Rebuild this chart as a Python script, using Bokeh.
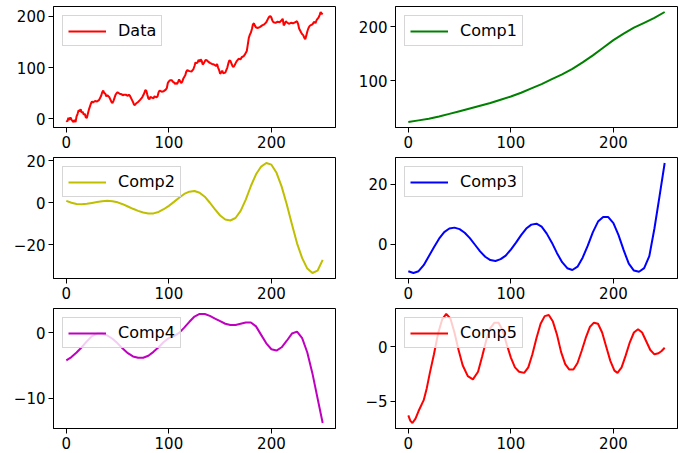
from bokeh.plotting import figure
from bokeh.layouts import gridplot
from bokeh.models import Range1d, FixedTicker, CustomJSTickFormatter, Legend, LegendItem
from bokeh.embed import file_html
from bokeh.resources import INLINE

# ---------------- data ----------------
xticks = [0, 100, 200]

data_x = [0, 1, 2, 3, 4, 5, 6, 7, 8, 9, 10, 11, 12, 13, 14, 15, 16, 17, 18, 19, 20, 21, 22, 23, 24, 25, 26, 28, 30, 32,
          34, 35, 36, 37, 38, 39, 40, 42, 44, 45, 46, 47, 48, 49, 50, 52, 54, 55, 56, 58, 60, 61, 62, 64, 65, 66, 67, 68,
          70, 72, 74, 75, 76, 77, 78, 79, 80, 81, 82, 84, 85, 86, 88, 89, 90, 91, 93, 95, 97, 98, 99, 100, 101, 103, 104,
          105, 106, 107, 108, 109, 110, 111, 112, 113, 114, 116, 117, 118, 120, 122, 124, 125, 126, 127, 128, 129, 130,
          131, 132, 133, 134, 135, 136, 137, 138, 140, 142, 144, 146, 147, 148, 149, 150, 151, 152, 153, 155, 156, 157,
          158, 159, 160, 161, 162, 163, 164, 165, 166, 168, 170, 171, 173, 174, 176, 177, 178, 179, 180, 181, 182, 183,
          184, 185, 187, 189, 191, 193, 195, 197, 198, 199, 200, 201, 202, 204, 206, 208, 210, 211, 212, 213, 214, 215,
          217, 219, 221, 223, 225, 226, 227, 228, 229, 230, 231, 232, 233, 234, 235, 236, 237, 238, 240, 241, 242, 243,
          244, 245, 246, 247, 248, 249, 250]
data_y = [-3, -5, 2, -2, 3, -1, -4, -6, -2, -6, 5, 10, 17, 15, 19, 12, 14, 8, 10, 3, 2, 10, 18, 24, 30, 34, 32, 35, 34, 37,
          45, 52, 55, 50, 49, 44, 46, 42, 33, 31, 35, 41, 47, 50, 52, 49, 48, 46, 47, 47, 45, 47, 45, 37, 33, 28, 27, 30,
          33, 37, 42, 46, 50, 56, 55, 47, 40, 38, 43, 41, 40, 44, 42, 44, 52, 55, 53, 54, 57, 60, 70, 73, 75, 75, 72,
          71, 68, 70, 68, 72, 77, 73, 70, 72, 78, 85, 92, 95, 93, 92, 97, 103, 110, 108, 110, 115, 111,
          116, 113, 106, 108, 112, 115, 114, 112, 109, 107, 106, 103, 107, 100, 95, 88, 90, 94, 89, 90, 95, 100,
          108, 114, 113, 108, 103, 101, 104, 108, 112, 117, 116, 120, 122, 125, 132, 145, 158, 164, 168, 175, 184, 186,
          181, 178, 177, 179, 182, 184, 188, 196, 199, 200, 197, 191, 188, 187, 189, 188, 192, 195, 182, 185, 190, 188,
          185, 187, 186, 188, 190, 185, 176, 172, 168, 165, 163, 158, 155, 162, 170, 176, 180, 182, 184, 187, 189, 186,
          192, 195, 197, 202, 208, 204, 206]
data_yticks = [0, 100, 200]

comp1_x = [0, 10, 20, 30, 40, 50, 60, 70, 80, 90, 100, 110, 120, 130, 140, 150, 160, 170, 180, 190, 200, 210, 220,
           230, 240, 250]
comp1_y = [24, 27, 30, 34, 39, 44, 49, 54, 59, 65, 71, 78, 86, 94, 103, 112, 122, 134, 147, 161, 175, 187, 198,
           207, 216, 227]
comp1_yticks = [100, 200]

comp_x = [0, 5, 10, 15, 20, 25, 30, 35, 40, 45, 50, 55, 60, 65, 70, 75, 80, 85, 90, 95, 100, 105, 110, 115, 120, 125,
          130, 135, 140, 145, 150, 155, 160, 165, 170, 175, 180, 185, 190, 195, 200, 205, 210, 215, 220, 225, 230,
          235, 240, 245, 250]
comp2_y = [0.9, 0.0, -0.6, -0.7, -0.5, -0.1, 0.3, 0.7, 0.9, 0.7, 0.2, -0.7, -1.8, -2.9, -3.9, -4.7, -5.1, -5.1,
           -4.4, -3.1, -1.5, 0.4, 2.4, 4.2, 5.3, 5.6, 4.8, 2.9, 0.0, -3.2, -6.1, -8.0, -8.5, -7.3, -3.9, 1.5, 8.0,
           13.6, 17.3, 19.0, 18.2, 14.3, 7.7, -0.8, -10.3, -19.4, -26.5, -31.5, -33.6, -32.5, -27.3]
comp2_yticks = [-20, 0, 20]

comp3_y = [-9.0, -9.6, -9.0, -7.0, -4.0, -1.0, 1.8, 4.0, 5.2, 5.5, 5.0, 3.8, 2.0, -0.2, -2.4, -4.2, -5.3, -5.6,
           -5.0, -3.8, -1.8, 0.5, 3.0, 5.2, 6.5, 6.8, 5.8, 3.5, 0.5, -3.0, -6.0, -8.0, -8.6, -7.5, -4.5, -0.5, 4.0,
           7.5, 9.0, 9.0, 7.0, 3.0, -2.0, -6.5, -8.8, -9.2, -8.0, -4.0, 5.2, 16.0, 27.0]
comp3_yticks = [0, 20]

comp4_y = [-4.2, -3.7, -3.0, -2.2, -1.3, -0.5, -0.1, -0.1, -0.4, -0.9, -1.6, -2.4, -3.1, -3.6, -3.8, -3.8, -3.5,
           -2.9, -2.2, -1.4, -0.8, -0.5, 0.0, 0.8, 1.7, 2.5, 2.9, 2.9, 2.6, 2.2, 1.8, 1.4, 1.2, 1.2, 1.4, 1.6, 1.6,
           1.0, -0.3, -1.6, -2.5, -2.7, -2.2, -1.2, -0.1, 0.2, -0.8, -3.0, -6.2, -10.0, -13.8]
comp4_yticks = [-10, 0]

comp5_x = [0, 2, 4, 7, 10, 15, 18, 21, 25, 29, 33, 37, 41, 45, 49, 53, 58, 63, 68, 72, 76, 80, 84, 88, 92, 96, 100,
           104, 108, 113, 117, 121, 125, 129, 133, 137, 141, 145, 149, 153, 157, 161, 165, 169, 173, 177, 181, 185,
           189, 193, 197, 201, 204, 208, 212, 216, 220, 224, 228, 232, 236, 240, 244, 247, 250]
comp5_y = [-6.3, -6.8, -7.0, -6.6, -5.9, -4.9, -3.8, -2.4, -0.7, 1.2, 2.5, 3.0, 2.6, 1.3, -0.3, -1.7, -2.7, -3.0,
           -2.3, -0.9, 0.6, 1.7, 2.2, 2.2, 1.5, 0.2, -1.0, -1.9, -2.3, -2.4, -1.9, -0.7, 0.8, 2.1, 2.8, 2.9, 2.3,
           1.1, -0.5, -1.6, -2.1, -2.1, -1.5, -0.4, 0.8, 1.8, 2.2, 2.1, 1.3, 0.0, -1.3, -2.2, -2.4, -1.9, -0.8, 0.4,
           1.3, 1.6, 1.3, 0.5, -0.3, -0.7, -0.6, -0.4, -0.1]
comp5_yticks = [-5, 0]

FONT = "DejaVu Sans"
minus_fmt = "return tick < 0 ? '\u2212' + String(Math.abs(tick)) : String(tick);"


def make(xs, ys, color, label, yticks, width, height, left, right, top):
    lo, hi = min(ys), max(ys)
    pad = 0.05 * (hi - lo)
    xlo, xhi = min(xs), max(xs)
    xpad = 0.05 * (xhi - xlo)
    p = figure(width=width, height=height, output_backend="svg", toolbar_location=None,
               x_range=Range1d(xlo - xpad, xhi + xpad), y_range=Range1d(lo - pad, hi + pad),
               min_border_left=left, min_border_right=right, min_border_top=top, min_border_bottom=24)
    r = p.line(xs, ys, line_color=color, line_width=2)
    p.xgrid.visible = False
    p.ygrid.visible = False
    p.outline_line_color = "black"
    p.outline_line_alpha = 1
    p.outline_line_width = 1
    p.background_fill_color = "white"
    p.border_fill_color = "white"
    p.xaxis[0].ticker = FixedTicker(ticks=xticks)
    p.yaxis[0].ticker = FixedTicker(ticks=yticks)
    for ax in (p.xaxis[0], p.yaxis[0]):
        ax.formatter = CustomJSTickFormatter(code=minus_fmt)
        ax.axis_line_color = "black"
        ax.major_tick_line_color = "black"
        ax.minor_tick_line_color = None
        ax.major_tick_out = 5
        ax.major_tick_in = 0
        ax.major_label_text_font = FONT
        ax.major_label_text_font_size = "15px"
        ax.major_label_text_color = "black"
        ax.major_label_standoff = 3
    leg = Legend(items=[LegendItem(label=label, renderers=[r])], location="top_left",
                 label_text_font=FONT, label_text_font_size="16px", label_text_color="black",
                 glyph_width=38, glyph_height=18, label_height=18, label_standoff=12,
                 padding=5, margin=9, spacing=0,
                 border_line_color="#cccccc", border_line_alpha=0.8,
                 background_fill_color="white", background_fill_alpha=0.8)
    p.add_layout(leg)
    return p


LW, RW = 340, 338
p1 = make(data_x, data_y, "#ff0000", "Data", data_yticks, LW, 151, 53, 5, 6)
p2 = make(comp1_x, comp1_y, "#008000", "Comp1", comp1_yticks, RW, 151, 55, 1, 6)
p3 = make(comp_x, comp2_y, "#bfbf00", "Comp2", comp2_yticks, LW, 151, 53, 5, 6)
p4 = make(comp_x, comp3_y, "#0000ff", "Comp3", comp3_yticks, RW, 151, 55, 1, 6)
p5 = make(comp_x, comp4_y, "#bf00bf", "Comp4", comp4_yticks, LW, 150, 53, 5, 6)
p6 = make(comp5_x, comp5_y, "#ff0000", "Comp5", comp5_yticks, RW, 150, 55, 1, 6)

grid = gridplot([[p1, p2], [p3, p4], [p5, p6]], toolbar_location=None)

open("out.html", "w").write(file_html(grid, INLINE))
